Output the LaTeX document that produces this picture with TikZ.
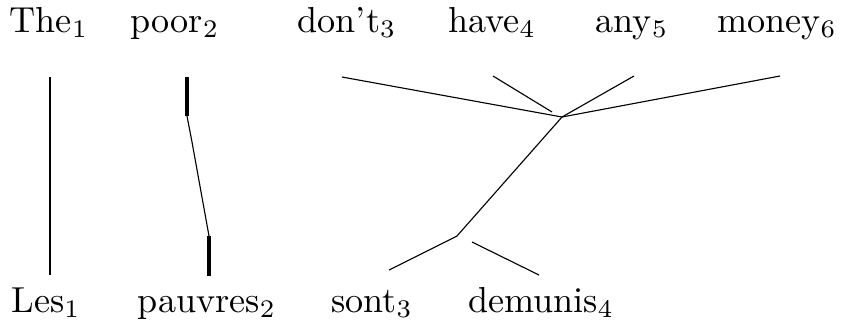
\documentclass[tikz,border=0pt]{standalone}
\usepackage{amsmath}
\usepackage{tikz}
\usetikzlibrary{positioning}

\begin{document}
\begin{tikzpicture}[x=0.025cm, y=-0.025cm,
        word/.style={anchor=base, inner sep=0pt, scale=2.57},
        link/.style={line width=0.8pt},
        bold/.style={line width=2.2pt}
    ]
    \useasboundingbox (0,0) rectangle (843,325);
    % English
    \node[word] (the) at (49,32) {The$_1$};
    \node[word] (poor) at (175,32) {poor$_2$};
    \node[word] (dont) at (347,32) {don't$_3$};
    \node[word] (have) at (492,32) {have$_4$};
    \node[word] (any) at (632,32) {any$_5$};
    \node[word] (money) at (777,32) {money$_6$};
    % French
    \node[word] (les) at (46,312) {Les$_1$};
    \node[word] (pauvres) at (207,312) {pauvres$_2$};
    \node[word] (sont) at (372,312) {sont$_3$};
    \node[word] (demunis) at (541,312) {demunis$_4$};
    % Ends
    \coordinate (theA) at (50,77);
    \coordinate (lesA) at (50,275);
    \coordinate (poorA) at (187,77);
    \coordinate (poorB) at (187,116);
    \coordinate (poorC) at (192,142);
    \coordinate (pauvB) at (209,236);
    \coordinate (pauvA) at (209,276);
    \coordinate (dontA) at (342,77);
    \coordinate (haveA) at (493,76);
    \coordinate (haveB) at (552,112);
    \coordinate (anyA) at (634,76);
    \coordinate (moneyA) at (780,76);
    \coordinate (hub) at (562,117);
    \coordinate (low) at (457,236);
    \coordinate (sontA) at (389,270);
    \coordinate (demA) at (472,242);
    \coordinate (demB) at (539,275);
    % Liens
    \draw[link, line width=1.2pt] (theA) -- (lesA);
    \draw[bold] (poorA) -- (poorB);
    \draw[link] (poorB) -- (poorC) -- (pauvB);
    \draw[bold] (pauvB) -- (pauvA);
    \draw[link] (dontA) -- (hub);
    \draw[link] (haveA) -- (haveB);
    \draw[link] (anyA) -- (hub);
    \draw[link] (moneyA) -- (hub);
    \draw[link] (hub) -- (low);
    \draw[link] (low) -- (sontA);
    \draw[link] (demA) -- (demB);
\end{tikzpicture}
\end{document}
